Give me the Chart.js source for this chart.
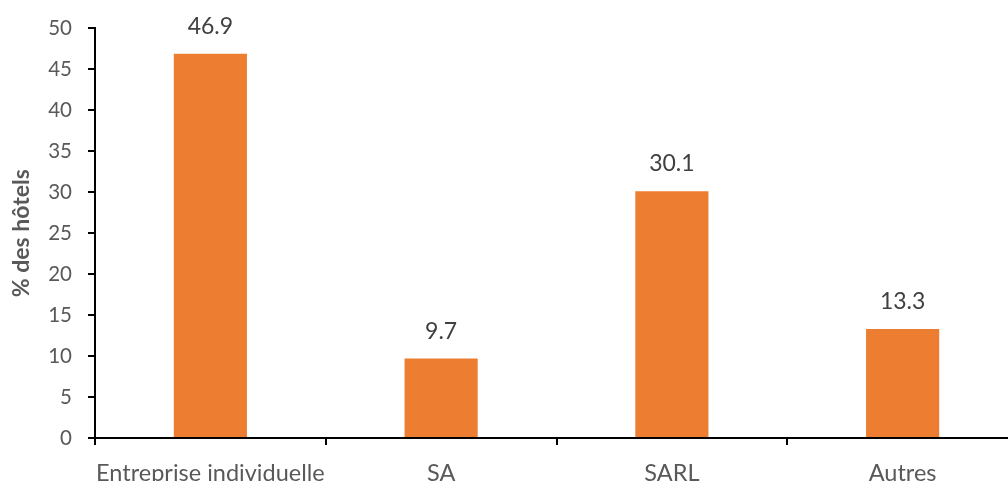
<!DOCTYPE html>
<html>
<head>
<meta charset="utf-8">
<script src="https://cdn.jsdelivr.net/npm/chart.js@4"></script>
<style>
  html, body { margin: 0; padding: 0; background: #fff; overflow: hidden; }
  #wrap { position: relative; width: 1018px; height: 495px; }
</style>
</head>
<body>
<div id="wrap"><canvas id="hotelsChart"></canvas></div>
<script>
// categories and values
const categories = ["Entreprise individuelle", "SA", "SARL", "Autres"];
const shares = [46.9, 9.7, 30.1, 13.3];
const yTicks = [0, 5, 10, 15, 20, 25, 30, 35, 40, 45, 50];

const FONT = "Lato, 'Open Sans', sans-serif";
const GREY = "#595959";

// draws the value above each bar
const valueLabels = {
  id: "valueLabels",
  afterDatasetsDraw(chart) {
    const ctx = chart.ctx;
    const meta = chart.getDatasetMeta(0);
    ctx.save();
    ctx.font = "23px " + FONT;
    ctx.fillStyle = "#404040";
    ctx.textAlign = "center";
    ctx.textBaseline = "alphabetic";
    meta.data.forEach((bar, i) => {
      ctx.fillText(shares[i].toFixed(1), bar.x, bar.y - 20);
    });
    ctx.restore();
  }
};

const ctx = document.getElementById("hotelsChart").getContext("2d");
new Chart(ctx, {
  type: "bar",
  data: {
    labels: categories,
    datasets: [{
      data: shares,
      backgroundColor: "#ED7D31",
      categoryPercentage: 1,
      barPercentage: 0.317
    }]
  },
  options: {
    responsive: true,
    maintainAspectRatio: false,
    animation: false,
    layout: { padding: { top: 27, left: 0, right: 0, bottom: 0 } },
    plugins: {
      legend: { display: false },
      tooltip: { enabled: false }
    },
    scales: {
      x: {
        afterFit(scale) { scale.height = 57; },
        grid: {
          display: true,
          drawOnChartArea: false,
          offset: true,
          tickLength: 7,
          color: "#000",
          lineWidth: 2
        },
        border: { display: true, color: "#000", width: 2 },
        ticks: {
          color: GREY,
          padding: 14,
          autoSkip: false,
          maxRotation: 0,
          minRotation: 0,
          font: { family: FONT, size: 23.5 }
        }
      },
      y: {
        min: 0,
        max: 50,
        afterFit(scale) { scale.width = 95; },
        afterBuildTicks(scale) { scale.ticks = yTicks.map(v => ({ value: v })); },
        grid: {
          display: true,
          drawOnChartArea: false,
          tickLength: 7,
          color: "#000",
          lineWidth: 2
        },
        border: { display: true, color: "#000", width: 2 },
        ticks: {
          color: GREY,
          padding: 16,
          font: { family: FONT, size: 20.5 }
        },
        title: {
          display: true,
          text: "% des hôtels",
          color: GREY,
          padding: { top: 8, bottom: 0 },
          font: { family: FONT, size: 23, weight: "bold" }
        }
      }
    }
  },
  plugins: [valueLabels]
});
</script>
</body>
</html>
